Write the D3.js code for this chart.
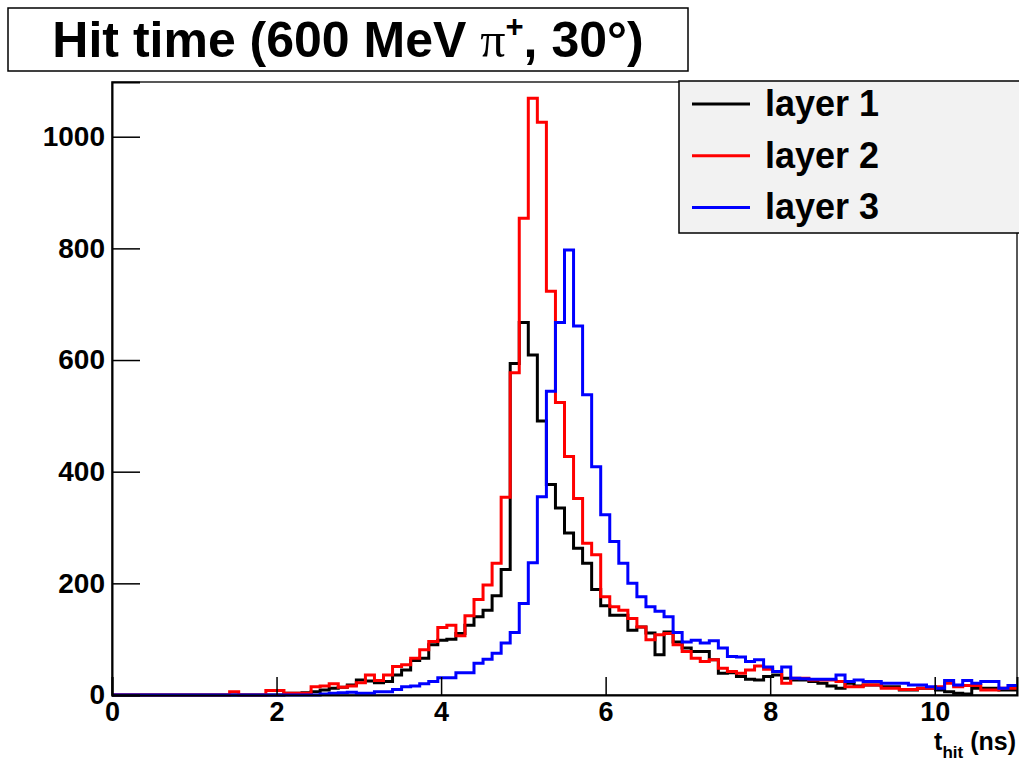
<!DOCTYPE html>
<html>
<head>
<meta charset="utf-8">
<script src="https://cdn.jsdelivr.net/npm/d3@7"></script>
<style>
  html, body { margin: 0; padding: 0; background: #fff; }
  svg { display: block; }
</style>
</head>
<body>
<div id="chart"></div>
<script>
// histogram range (ns) and bin contents, 100 bins over 0 - 11 ns
const xLow = 0, xHigh = 11;
const layerNames = ["layer 1", "layer 2", "layer 3"];
const layerColors = ["#000000", "#ff0000", "#0000ff"];

const layer1 = [
  0, 0, 0, 0, 0, 0, 0, 0, 0, 0,
  0, 0, 0, 0, 0, 0, 0, 0, 0, 3,
  3, 4, 6, 9, 12, 14, 18, 27, 25, 22,
  24, 36, 45, 62, 66, 90, 98, 100, 110, 125,
  140, 152, 178, 225, 594, 667, 609, 491, 377, 335,
  290, 263, 236, 189, 160, 143, 143, 116, 122, 111,
  72, 113, 95, 84, 78, 78, 63, 39, 40, 33,
  28, 27, 33, 36, 30, 27, 27, 24, 21, 16,
  12, 21, 16, 18, 18, 15, 15, 9, 9, 12,
  12, 9, 6, 3, 2, 12, 12, 12, 9, 9
];
const layer2 = [
  0, 0, 0, 0, 0, 0, 0, 0, 0, 0,
  0, 0, 0, 6, 0, 0, 0, 8, 8, 3,
  3, 3, 15, 16, 20, 14, 16, 22, 36, 26,
  36, 51, 54, 66, 81, 96, 121, 125, 106, 142,
  171, 197, 236, 354, 577, 854, 1069, 1026, 723, 524,
  427, 352, 272, 251, 176, 158, 152, 137, 122, 99,
  108, 110, 90, 78, 66, 60, 63, 48, 42, 39,
  45, 52, 46, 42, 21, 30, 30, 27, 27, 27,
  24, 15, 15, 18, 18, 12, 12, 10, 10, 12,
  12, 15, 21, 15, 17, 17, 9, 9, 12, 12
];
const layer3 = [
  0, 0, 0, 0, 0, 0, 0, 0, 0, 0,
  0, 0, 0, 0, 0, 0, 0, 0, 0, 0,
  0, 0, 0, 2, 3, 4, 5, 3, 3, 6,
  6, 10, 15, 16, 20, 24, 31, 31, 40, 40,
  57, 64, 75, 93, 112, 164, 237, 355, 544, 667,
  797, 661, 538, 409, 323, 275, 236, 200, 176, 158,
  150, 140, 112, 95, 98, 93, 97, 84, 69, 68,
  60, 63, 50, 42, 50, 30, 29, 28, 28, 28,
  36, 24, 27, 24, 24, 21, 21, 21, 18, 18,
  15, 12, 26, 18, 26, 21, 24, 24, 12, 17
];

const xMajor = [0, 2, 4, 6, 8, 10];
const yMajor = [0, 200, 400, 600, 800, 1000];
const yMax = 1098;

const width = 1019, height = 761;
const margin = { top: 82, right: 2, bottom: 66, left: 112 };

const svg = d3.select("#chart")
  .append("svg")
  .attr("width", width)
  .attr("height", height)
  .attr("font-family", "'Liberation Sans', Arial, Helvetica, sans-serif");

const x = d3.scaleLinear()
  .domain([xLow, xHigh])
  .range([margin.left, width - margin.right]);
const y = d3.scaleLinear()
  .domain([0, yMax])
  .range([height - margin.bottom, margin.top]);

// frame
svg.append("rect")
  .attr("x", x(xLow))
  .attr("y", y(yMax))
  .attr("width", x(xHigh) - x(xLow))
  .attr("height", y(0) - y(yMax))
  .attr("fill", "#fff")
  .attr("stroke", "#222")
  .attr("stroke-width", 1.5);

svg.append("clipPath")
  .attr("id", "plot-clip")
  .append("rect")
  .attr("x", x(xLow))
  .attr("y", y(yMax))
  .attr("width", x(xHigh) - x(xLow))
  .attr("height", y(0) - y(yMax) + 4);

// histograms, drawn in order so layer 3 sits on top
const nBins = layer1.length;
const edges = d3.range(nBins + 1).map((i) => xLow + (i * (xHigh - xLow)) / nBins);
const stepLine = d3.line()
  .x((d) => x(d[0]))
  .y((d) => y(d[1]))
  .curve(d3.curveStepAfter);

[layer1, layer2, layer3].forEach((vals, k) => {
  const pts = vals.map((v, i) => [edges[i], v]);
  pts.push([edges[nBins], vals[nBins - 1]]);
  svg.append("path")
    .attr("class", "hist")
    .attr("clip-path", "url(#plot-clip)")
    .attr("d", stepLine(pts))
    .attr("fill", "none")
    .attr("stroke", layerColors[k])
    .attr("stroke-width", 3)
    .attr("stroke-linejoin", "miter");
});

// y axis
const yAxisG = svg.append("g")
  .attr("transform", `translate(${x(xLow)},0)`);
yAxisG.call(
  d3.axisLeft(y).tickValues(d3.range(0, yMax, 50)).tickSize(-14).tickFormat("")
);
yAxisG.call(
  d3.axisLeft(y).tickValues(yMajor).tickSize(-28).tickPadding(7).tickFormat(d3.format("d"))
);
yAxisG.selectAll("path.domain").attr("stroke", "#000").attr("stroke-width", 2);
yAxisG.selectAll("line").attr("stroke", "#000").attr("stroke-width", 1.5);
yAxisG.selectAll("text")
  .attr("font-family", "'Liberation Sans', Arial, sans-serif")
  .attr("font-weight", "bold")
  .attr("font-size", 28)
  .attr("fill", "#000");

// x axis
const xAxisG = svg.append("g")
  .attr("transform", `translate(0,${y(0)})`);
xAxisG.call(
  d3.axisBottom(x).tickValues(d3.range(0, xHigh, 0.5)).tickSize(-9).tickFormat("")
);
xAxisG.call(
  d3.axisBottom(x).tickValues(xMajor).tickSize(-18).tickPadding(7).tickFormat(d3.format("d"))
);
xAxisG.selectAll("path.domain").attr("stroke", "#000").attr("stroke-width", 2);
xAxisG.selectAll("line").attr("stroke", "#000").attr("stroke-width", 1.5);
xAxisG.selectAll("text")
  .attr("font-family", "'Liberation Sans', Arial, sans-serif")
  .attr("font-weight", "bold")
  .attr("font-size", 27)
  .attr("fill", "#000");

// x axis title
const xTitle = svg.append("text")
  .attr("x", 1016)
  .attr("y", 750)
  .attr("text-anchor", "end")
  .attr("font-weight", "bold")
  .attr("font-size", 25);
xTitle.append("tspan").text("t");
xTitle.append("tspan").attr("font-size", 17).attr("dy", 8).text("hit");
xTitle.append("tspan").attr("dy", -8).text(" (ns)");

// title box
svg.append("rect")
  .attr("x", 8)
  .attr("y", 8)
  .attr("width", 680)
  .attr("height", 63)
  .attr("fill", "#fff")
  .attr("stroke", "#000")
  .attr("stroke-width", 1.5);
const title = svg.append("text")
  .attr("x", 348)
  .attr("y", 57)
  .attr("text-anchor", "middle")
  .attr("font-weight", "bold")
  .attr("font-size", 50);
title.append("tspan").text("Hit time (600 MeV ");
title.append("tspan")
  .attr("font-family", "'Liberation Serif', 'Times New Roman', serif")
  .attr("font-weight", "normal")
  .text("π");
title.append("tspan").attr("font-size", 31).attr("dy", -20).text("+");
title.append("tspan").attr("dy", 20).text(", 30°)");

// legend
const legend = svg.append("g").attr("class", "legend");
legend.append("rect")
  .attr("x", 679)
  .attr("y", 81)
  .attr("width", 400)
  .attr("height", 152)
  .attr("fill", "#f2f2f2")
  .attr("stroke", "#000")
  .attr("stroke-width", 1.5);
legend.selectAll("g.entry")
  .data(layerNames)
  .join("g")
  .attr("class", "entry")
  .attr("transform", (_, i) => `translate(0, ${104 + i * 51.7})`)
  .call((g) => {
    g.append("line")
      .attr("x1", 692)
      .attr("x2", 750)
      .attr("stroke", (_, i) => layerColors[i])
      .attr("stroke-width", 3);
    g.append("text")
      .attr("x", 765)
      .attr("y", 12)
      .attr("font-weight", "bold")
      .attr("font-size", 36)
      .attr("fill", "#000")
      .text((d) => d);
  });
</script>
</body>
</html>
